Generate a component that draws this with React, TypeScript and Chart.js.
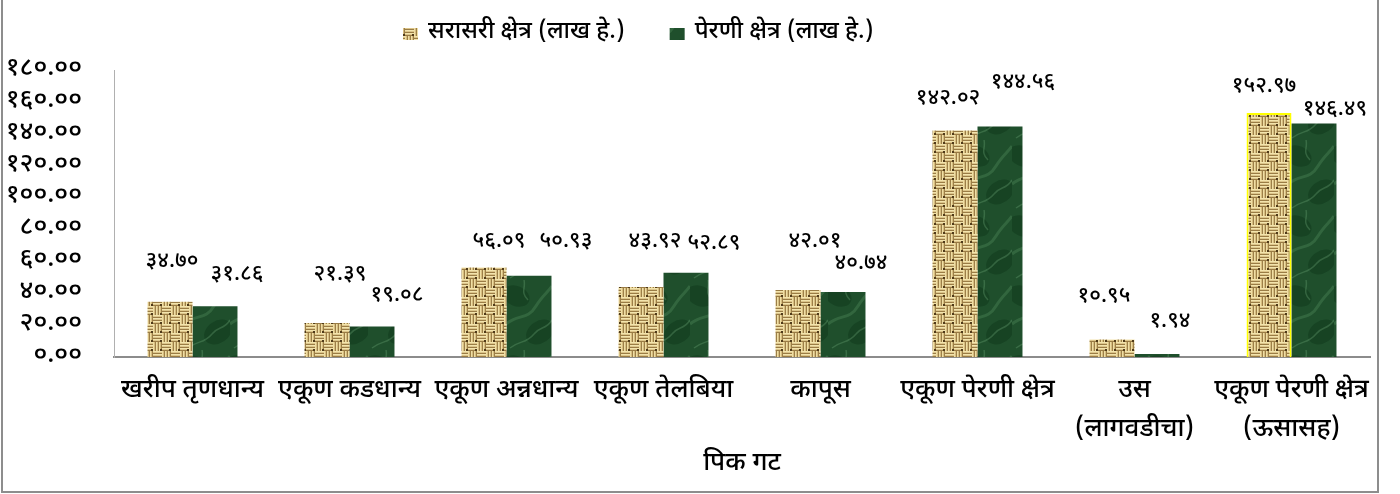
import React, { useEffect, useRef } from "react";
import { Chart, registerables } from "chart.js";

Chart.register(...registerables);

const categories: (string | string[])[] = [
  "खरीप तृणधान्य",
  "एकूण कडधान्य",
  "एकूण अन्नधान्य",
  "एकूण तेलबिया",
  "कापूस",
  "एकूण पेरणी क्षेत्र",
  ["उस", "(लागवडीचा)"],
  ["एकूण पेरणी क्षेत्र", "(ऊसासह)"],
];
const seriesNames = ["सरासरी क्षेत्र (लाख हे.)", "पेरणी क्षेत्र (लाख हे.)"];
const averageArea = [34.7, 21.39, 56.09, 43.92, 42.01, 142.02, 10.95, 152.97];
const sownArea = [31.86, 19.08, 50.93, 52.89, 40.74, 144.56, 1.94, 146.49];
const yTickValues = [0, 20, 40, 60, 80, 100, 120, 140, 160, 180];
const xTitle = "पिक गट";

// label placement (offsets from bar top-centre, in px)
const labelDx = [
  [2, 13, 15, 14, 17, -7, -8, -5],
  [22, 25, 37, 28, 18, 23, 13, 21],
];
const labelDy = [
  [39, 47, 25, 44, 47, 31, 42, 25],
  [30, 30, 33, 28, 27, 43, 31, 13],
];

const DEV = ["०", "१", "२", "३", "४", "५", "६", "७", "८", "९"];
const toDev = (s: string) => s.replace(/[0-9]/g, (d) => DEV[+d]);

const FONT = "'Noto Sans Devanagari', 'Nirmala UI', Mangal, 'Lohit Devanagari', 'Noto Sans', sans-serif";

function burlapPattern(ctx: CanvasRenderingContext2D) {
  const S = 9;
  const c = document.createElement("canvas");
  c.width = S * 2;
  c.height = S * 2;
  const g = c.getContext("2d")!;
  g.fillStyle = "#c8aa6c";
  g.fillRect(0, 0, S * 2, S * 2);
  for (let by = 0; by < 2; by++) {
    for (let bx = 0; bx < 2; bx++) {
      const horiz = (bx + by) % 2 === 0;
      const x0 = bx * S;
      const y0 = by * S;
      for (let k = 0; k < 3; k++) {
        if (horiz) {
          g.fillStyle = "#f3e4ad";
          g.fillRect(x0, y0 + k * 3, S, 1);
          g.fillStyle = "#dcc58a";
          g.fillRect(x0, y0 + k * 3 + 1, S, 1);
          g.fillStyle = "#9a7c45";
          g.fillRect(x0, y0 + k * 3 + 2, S, 1);
        } else {
          g.fillStyle = "#efdea4";
          g.fillRect(x0 + k * 3, y0, 1, S);
          g.fillStyle = "#d6bd80";
          g.fillRect(x0 + k * 3 + 1, y0, 1, S);
          g.fillStyle = "#9c7f48";
          g.fillRect(x0 + k * 3 + 2, y0, 1, S);
        }
      }
      g.fillStyle = "#4f3a1a";
      g.fillRect(x0 + S - 2, y0 + S - 2, 2, 2);
    }
  }
  return ctx.createPattern(c, "repeat")!;
}

function marblePattern(ctx: CanvasRenderingContext2D) {
  const c = document.createElement("canvas");
  c.width = 46;
  c.height = 70;
  const g = c.getContext("2d")!;
  g.fillStyle = "#1f4f2c";
  g.fillRect(0, 0, 46, 70);
  g.fillStyle = "rgba(10,45,20,0.35)";
  g.beginPath();
  g.ellipse(10, 16, 14, 10, 0.4, 0, Math.PI * 2);
  g.fill();
  g.beginPath();
  g.ellipse(34, 52, 15, 11, -0.6, 0, Math.PI * 2);
  g.fill();
  g.strokeStyle = "rgba(100,160,110,0.28)";
  g.lineWidth = 3;
  g.beginPath();
  g.moveTo(0, 44);
  g.bezierCurveTo(12, 34, 22, 40, 30, 26);
  g.bezierCurveTo(36, 16, 42, 12, 46, 6);
  g.stroke();
  g.lineWidth = 1.5;
  g.strokeStyle = "rgba(120,180,130,0.3)";
  g.beginPath();
  g.moveTo(4, 68);
  g.bezierCurveTo(14, 60, 20, 64, 28, 54);
  g.bezierCurveTo(34, 46, 40, 50, 46, 40);
  g.stroke();
  g.beginPath();
  g.moveTo(18, 0);
  g.bezierCurveTo(20, 8, 14, 12, 22, 20);
  g.stroke();
  return ctx.createPattern(c, "repeat")!;
}

const labelPlugin = {
  id: "barLabels",
  afterDatasetsDraw(chart: any) {
    const ctx = chart.ctx;
    ctx.save();
    ctx.font = `500 22px ${FONT}`;
    ctx.fillStyle = "#000";
    ctx.textAlign = "center";
    ctx.textBaseline = "middle";
    chart.data.datasets.forEach((ds: any, di: number) => {
      const meta = chart.getDatasetMeta(di);
      meta.data.forEach((el: any, i: number) => {
        const txt = toDev(Number(ds.data[i]).toFixed(2));
        ctx.fillText(txt, el.x + labelDx[di][i], el.y - labelDy[di][i]);
      });
    });
    ctx.restore();
  },
};

const legendPlugin = {
  id: "customLegend",
  afterDraw(chart: any) {
    const ctx = chart.ctx;
    ctx.save();
    ctx.font = `500 24px ${FONT}`;
    ctx.textBaseline = "middle";
    ctx.textAlign = "left";
    const boxW = 15;
    const boxH = 12;
    const gapText = 10;
    const gapItem = 45;
    let x = 403;
    const yc = 34;
    chart.data.datasets.forEach((ds: any) => {
      ctx.fillStyle = ds.legendFill;
      ctx.fillRect(x, yc - boxH / 2, boxW, boxH);
      ctx.fillStyle = "#000";
      ctx.fillText(ds.label, x + boxW + gapText, yc);
      x += boxW + gapText + ctx.measureText(ds.label).width + gapItem;
    });
    ctx.restore();
  },
};

export default function App() {
  const ref = useRef<HTMLCanvasElement | null>(null);
  useEffect(() => {
    const canvas = ref.current!;
    const ctx = canvas.getContext("2d")!;
    const burlap = burlapPattern(ctx);
    const marble = marblePattern(ctx);
    const chart = new Chart(canvas, {
      type: "bar",
      data: {
        labels: categories,
        datasets: [
          {
            label: seriesNames[0],
            data: averageArea,
            backgroundColor: burlap,
            borderColor: averageArea.map((_, i) => (i === averageArea.length - 1 ? "#ffff00" : "rgba(0,0,0,0)")),
            borderWidth: averageArea.map((_, i) => (i === averageArea.length - 1 ? 2 : 0)),
            legendFill: burlap,
          } as any,
          {
            label: seriesNames[1],
            data: sownArea,
            backgroundColor: marble,
            borderWidth: 0,
            legendFill: marble,
          } as any,
        ],
      },
      options: {
        responsive: false,
        animation: false,
        layout: { padding: { top: 70, right: 30, left: 0, bottom: 0 } },
        datasets: { bar: { categoryPercentage: 0.573, barPercentage: 1 } },
        plugins: { legend: { display: false }, tooltip: { enabled: false } },
        scales: {
          x: {
            grid: { display: false, drawTicks: false },
            border: { display: true, color: "#8c8c8c", width: 2 },
            ticks: {
              color: "#000",
              font: { family: FONT, size: 26, weight: "500", lineHeight: 1.5 },
              padding: 16,
              maxRotation: 0,
              autoSkip: false,
            },
            title: {
              display: true,
              text: xTitle,
              color: "#000",
              font: { family: FONT, size: 26, weight: "500", lineHeight: 1.2 },
              padding: { top: 0, bottom: 13 },
            },
            afterFit: (scale: any) => {
              scale.height = 137;
            },
          },
          y: {
            min: 0,
            max: 180,
            afterBuildTicks: (scale: any) => {
              scale.ticks = yTickValues.map((v) => ({ value: v }));
            },
            grid: { display: false, drawTicks: false },
            border: { display: true, color: "#b0b0b0", width: 1 },
            ticks: {
              color: "#000",
              autoSkip: false,
              font: { family: FONT, size: 26, weight: "500", lineHeight: 0.9 },
              padding: 32,
              callback: (v: any) => toDev(Number(v).toFixed(2)),
            },
            afterFit: (scale: any) => {
              scale.width = 114;
            },
          },
        },
      },
      plugins: [labelPlugin, legendPlugin],
    });
    return () => chart.destroy();
  }, []);

  return (
    <div style={{ position: "fixed", left: 0, top: 0, width: 1400, height: 494, background: "#fff", overflow: "hidden" }}>
      <div
        style={{
          position: "absolute",
          left: 1,
          top: -4,
          width: 1378,
          height: 497,
          border: "2px solid #8d8d8d",
          boxSizing: "border-box",
        }}
      />
      <canvas ref={ref} width={1400} height={494} style={{ position: "absolute", left: 0, top: 0 }} />
    </div>
  );
}
